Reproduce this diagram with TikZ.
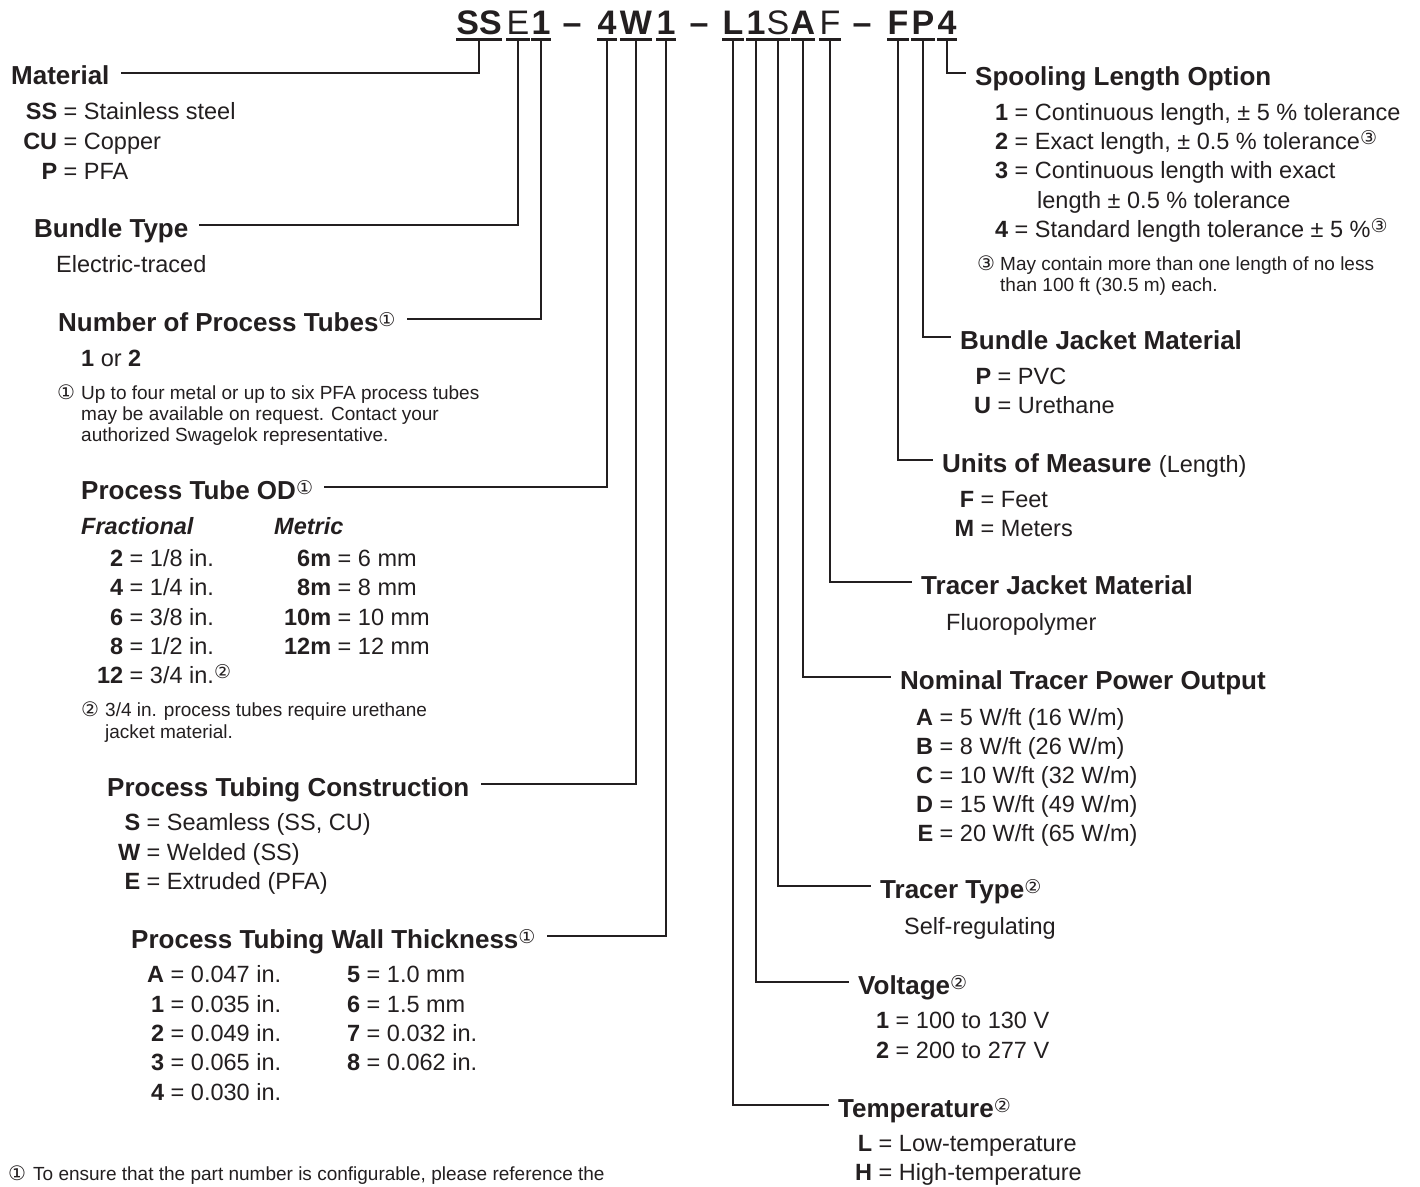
\documentclass[tikz,border=0pt]{standalone}
\usepackage{fontspec}
\setmainfont{Liberation Sans}
\newfontfamily\circfont{DejaVu Sans}
\usepackage{tikz}

\definecolor{ink}{RGB}{35,31,32}
\newcommand{\fnsup}[1]{\raisebox{5pt}{\fontsize{19}{19}\selectfont\mdseries\circfont #1}}
\newcommand{\fnmark}[1]{{\fontsize{20}{20}\selectfont\circfont #1}}
\newcommand{\opt}[2]{\llap{\textbf{#1}} = #2}

\begin{document}
\begin{tikzpicture}[x=1pt,y=-1pt,
  code/.style={font=\fontsize{34}{34}\selectfont\bfseries, text=ink, inner sep=0pt, anchor=base, text depth=5pt},
  bar/.style={draw=ink, line width=2.7pt},
  lead/.style={draw=ink, line width=2pt},
  head/.style={font=\fontsize{26}{30}\selectfont\bfseries, text=ink, inner xsep=11pt, inner ysep=0pt, text height=24pt, text depth=0pt, anchor=base west},
  headr/.style={head, inner xsep=9pt},
  row/.style={font=\fontsize{23.5}{27}\selectfont, text=ink, inner sep=0pt, anchor=base west},
  note/.style={font=\fontsize{19}{21}\selectfont, text=ink, inner sep=0pt, anchor=base west}]
\path[fill=white, use as bounding box] (0,0) rectangle (1420,1186);

% part number
\foreach \n/\x/\t in {cSS/479/SS, cE/518/{\mdseries E}, cN/541/1, dA/572/\textendash, cOD/607/4, cCon/636/W, cWall/666/1, dB/699/\textendash, cTemp/733/L, cVolt/756/1, cType/778/{\mdseries S}, cPow/803/A, cJack/830/{\mdseries F}, dC/862/\textendash, cUnit/898/F, cBun/923/P, cSpool/947/4}
  \node[code] (\n) at (\x,34) {\t};
\foreach \n in {cSS,cE,cN,cOD,cCon,cWall,cTemp,cVolt,cType,cPow,cJack,cUnit,cBun,cSpool}
  \draw[bar] (\n.south west) -- (\n.south east);

% left column
\node[head] (material) at (0,84.5) {Material};
\foreach \y/\c/\d [count=\i] in {119/SS/Stainless steel, 149/CU/Copper, 179/P/PFA}
  \node[row] (mat\i) at (57,\y) {\opt{\c}{\d}};

\node[head] (bundle) at (23,237) {Bundle Type};
\node[row] (btype) at (56,272) {Electric-traced};

\node[head] (ntubes) at (47,331) {Number of Process Tubes\fnsup{①}};
\node[row] (ntubesval) at (81,366) {\textbf{1} or \textbf{2}};
\node[note] (fnA) at (57,399) {\fnmark{①}};
\foreach \y/\t [count=\i] in {399/Up to four metal or up to six PFA process tubes, 420/{may be available on request. Contact your}, 441/authorized Swagelok representative.}
  \node[note] (fnAl\i) at (81,\y) {\t};

\node[head] (tubeod) at (70,499) {Process Tube OD\fnsup{①}};
\node[row] (frac) at (81,534) {\bfseries\itshape Fractional};
\node[row] (metric) at (274,534) {\bfseries\itshape Metric};
\foreach \y/\c/\d [count=\i] in {566/2/{1/8 in.}, 595/4/{1/4 in.}, 625/6/{3/8 in.}, 654/8/{1/2 in.}, 683/12/{3/4 in.\fnsup{②}}}
  \node[row] (fr\i) at (123,\y) {\opt{\c}{\d}};
\foreach \y/\c/\d [count=\i] in {566/6m/6 mm, 595/8m/8 mm, 625/10m/10 mm, 654/12m/12 mm}
  \node[row] (mm\i) at (331,\y) {\opt{\c}{\d}};
\node[note] (fnB) at (81,716) {\fnmark{②}};
\node[note] (fnBl1) at (105,716) {3/4 in. process tubes require urethane};
\node[note] (fnBl2) at (105,738) {jacket material.};

\node[head] (constr) at (96,796) {Process Tubing Construction};
\foreach \y/\c/\d [count=\i] in {830/S/{Seamless (SS, CU)}, 860/W/Welded (SS), 889/E/Extruded (PFA)}
  \node[row] (con\i) at (140,\y) {\opt{\c}{\d}};

\node[head] (wall) at (120,948) {Process Tubing Wall Thickness\fnsup{①}};
\foreach \y/\c/\d [count=\i] in {982/A/0.047 in., 1012/1/0.035 in., 1041/2/0.049 in., 1070/3/0.065 in., 1100/4/0.030 in.}
  \node[row] (wa\i) at (164,\y) {\opt{\c}{\d}};
\foreach \y/\c/\d [count=\i] in {982/5/1.0 mm, 1012/6/1.5 mm, 1041/7/0.032 in., 1070/8/0.062 in.}
  \node[row] (wb\i) at (360,\y) {\opt{\c}{\d}};

\node[note] (fnC) at (8,1180) {\fnmark{①}};
\node[note] (fnCl) at (33,1180) {To ensure that the part number is configurable, please reference the};

% right column
\node[headr] (spool) at (966,85) {Spooling Length Option};
\foreach \y/\c/\d [count=\i] in {120/1/{Continuous length, ± 5 \% tolerance}, 149/2/{Exact length, ± 0.5 \% tolerance\fnsup{③}}, 178/3/Continuous length with exact, 237/4/{Standard length tolerance ± 5 \%\fnsup{③}}}
  \node[row] (sp\i) at (1008,\y) {\opt{\c}{\d}};
\node[row] (sp3b) at (1037,208) {length ± 0.5 \% tolerance};
\node[note] (fnD) at (977,270) {\fnmark{③}};
\node[note] (fnDl1) at (1000,270) {May contain more than one length of no less};
\node[note] (fnDl2) at (1000,291) {than 100 ft (30.5 m) each.};

\node[headr] (bjacket) at (951,349) {Bundle Jacket Material};
\foreach \y/\c/\d [count=\i] in {384/P/PVC, 413/U/Urethane}
  \node[row] (bj\i) at (991,\y) {\opt{\c}{\d}};

\node[headr] (units) at (933,472) {Units of Measure {\fontsize{23.5}{27}\selectfont\mdseries(Length)}};
\foreach \y/\c/\d [count=\i] in {507/F/Feet, 536/M/Meters}
  \node[row] (un\i) at (974,\y) {\opt{\c}{\d}};

\node[headr] (tjacket) at (912,594) {Tracer Jacket Material};
\node[row] (fluoro) at (946,630) {Fluoropolymer};

\node[headr] (power) at (891,689) {Nominal Tracer Power Output};
\foreach \y/\c/\d [count=\i] in {725/A/{5 W/ft (16 W/m)}, 754/B/{8 W/ft (26 W/m)}, 783/C/{10 W/ft (32 W/m)}, 812/D/{15 W/ft (49 W/m)}, 841/E/{20 W/ft (65 W/m)}}
  \node[row] (pw\i) at (933,\y) {\opt{\c}{\d}};

\node[headr] (ttype) at (871,898) {Tracer Type\fnsup{②}};
\node[row] (selfreg) at (904,934) {Self-regulating};

\node[headr] (volt) at (849,994) {Voltage\fnsup{②}};
\foreach \y/\c/\d [count=\i] in {1028/1/100 to 130 V, 1058/2/200 to 277 V}
  \node[row] (vo\i) at (889,\y) {\opt{\c}{\d}};

\node[headr] (temp) at (829,1117) {Temperature\fnsup{②}};
\foreach \y/\c/\d [count=\i] in {1151/L/Low-temperature, 1180/H/High-temperature}
  \node[row] (te\i) at (872,\y) {\opt{\c}{\d}};

% leaders
\draw[lead] (cSS.south) |- (material.east);
\draw[lead] (cE.south) |- (bundle.east);
\draw[lead] (cN.south) |- (ntubes.east);
\draw[lead] (cOD.south) |- (tubeod.east);
\draw[lead] (cCon.south) |- (constr.east);
\draw[lead] (cWall.south) |- (wall.east);
\draw[lead] (cTemp.south) |- (temp.west);
\draw[lead] (cVolt.south) |- (volt.west);
\draw[lead] (cType.south) |- (ttype.west);
\draw[lead] (cPow.south) |- (power.west);
\draw[lead] (cJack.south) |- (tjacket.west);
\draw[lead] (cUnit.south) |- (units.west);
\draw[lead] (cBun.south) |- (bjacket.west);
\draw[lead] (cSpool.south) |- (spool.west);
\end{tikzpicture}
\end{document}
